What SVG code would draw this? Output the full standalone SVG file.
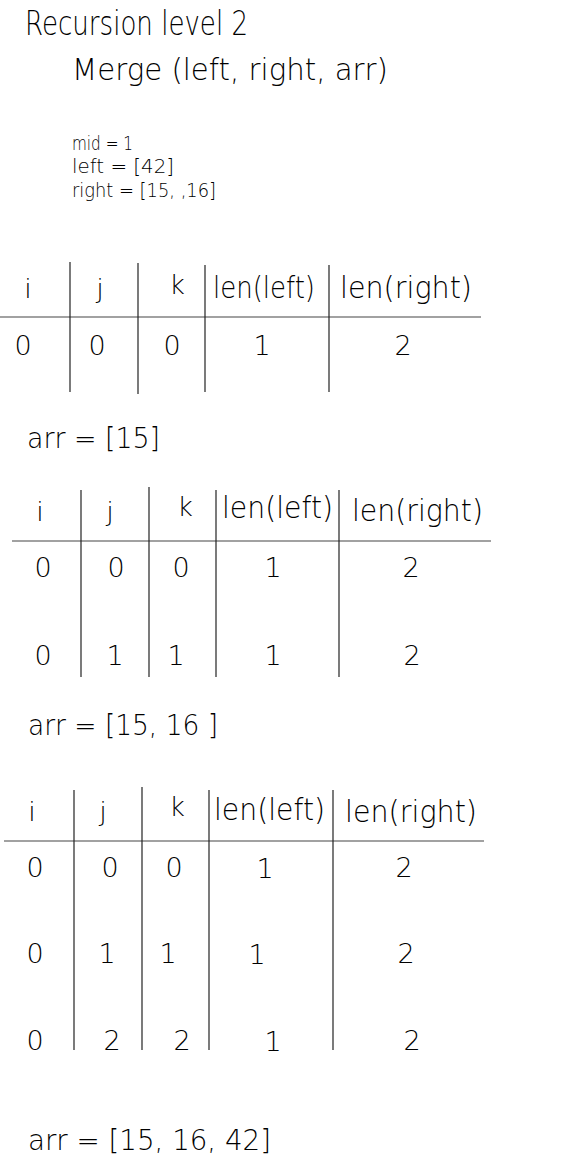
<svg xmlns="http://www.w3.org/2000/svg" width="582" height="1162" viewBox="0 0 582 1162">
<style>
text{font-family:"DejaVu Sans","Liberation Sans",sans-serif;font-weight:200;fill:#000}
.t{font-size:33px}
.m{font-size:31px}
.s{font-size:19px}
.h{font-size:31px}
.d{font-size:27px;text-anchor:middle}
.a{font-size:28px}
line{stroke:#222;stroke-width:1.2}
.hl{stroke:#444}
</style>
<rect width="582" height="1162" fill="#fff"/>
<g id="header">
<text class="t" x="25" y="35" textLength="223" lengthAdjust="spacingAndGlyphs">Recursion level 2</text>
<text class="m" x="72" y="80" textLength="316" lengthAdjust="spacingAndGlyphs">Merge (left, right, arr)</text>
<text class="s" x="72" y="150" textLength="61" lengthAdjust="spacingAndGlyphs">mid = 1</text>
<text class="s" x="72" y="173" textLength="102" lengthAdjust="spacingAndGlyphs">left = [42]</text>
<text class="s" x="72" y="197" textLength="144" lengthAdjust="spacingAndGlyphs">right = [15, ,16]</text>
</g>
<g id="table1">
<line class="hl" x1="0" y1="317" x2="481" y2="317"/>
<line x1="70" y1="262" x2="70" y2="392"/>
<line x1="138" y1="263" x2="138" y2="394"/>
<line x1="205" y1="265" x2="205" y2="392"/>
<line x1="329" y1="265" x2="329" y2="392"/>
<text class="d" x="28" y="298">i</text>
<text class="d" x="100" y="298">j</text>
<text class="d" x="177" y="294">k</text>
<text class="h" x="213" y="298" textLength="102" lengthAdjust="spacingAndGlyphs">len(left)</text>
<text class="h" x="340" y="298" textLength="132" lengthAdjust="spacingAndGlyphs">len(right)</text>
<text class="d" x="23" y="355">0</text>
<text class="d" x="97" y="355">0</text>
<text class="d" x="172" y="355">0</text>
<text class="d" x="262" y="355">1</text>
<text class="d" x="403" y="355">2</text>
</g>
<g id="arr1">
<text class="a" x="27" y="448" textLength="133" lengthAdjust="spacingAndGlyphs">arr = [15]</text>
</g>
<g id="table2">
<line class="hl" x1="12" y1="541" x2="491" y2="541"/>
<line x1="81" y1="490" x2="81" y2="677"/>
<line x1="149" y1="487" x2="149" y2="677"/>
<line x1="216" y1="490" x2="216" y2="677"/>
<line x1="339" y1="490" x2="339" y2="677"/>
<text class="d" x="40" y="521">i</text>
<text class="d" x="110" y="521">j</text>
<text class="d" x="185" y="516">k</text>
<text class="h" x="222" y="518" textLength="111" lengthAdjust="spacingAndGlyphs">len(left)</text>
<text class="h" x="352" y="521" textLength="131" lengthAdjust="spacingAndGlyphs">len(right)</text>
<text class="d" x="43" y="577">0</text>
<text class="d" x="116" y="577">0</text>
<text class="d" x="181" y="577">0</text>
<text class="d" x="273" y="577">1</text>
<text class="d" x="411" y="577">2</text>
<text class="d" x="43" y="665">0</text>
<text class="d" x="115" y="665">1</text>
<text class="d" x="176" y="665">1</text>
<text class="d" x="273" y="665">1</text>
<text class="d" x="412" y="665">2</text>
</g>
<g id="arr2">
<text class="a" x="28" y="735" textLength="190" lengthAdjust="spacingAndGlyphs">arr = [15, 16 ]</text>
</g>
<g id="table3">
<line class="hl" x1="4" y1="841" x2="484" y2="841"/>
<line x1="74" y1="790" x2="74" y2="1050"/>
<line x1="142" y1="787" x2="142" y2="1050"/>
<line x1="209" y1="790" x2="209" y2="1050"/>
<line x1="333" y1="790" x2="333" y2="1050"/>
<text class="d" x="32" y="821">i</text>
<text class="d" x="103" y="821">j</text>
<text class="d" x="177" y="816">k</text>
<text class="h" x="214" y="820" textLength="111" lengthAdjust="spacingAndGlyphs">len(left)</text>
<text class="h" x="345" y="822" textLength="132" lengthAdjust="spacingAndGlyphs">len(right)</text>
<text class="d" x="35" y="877">0</text>
<text class="d" x="110" y="877">0</text>
<text class="d" x="174" y="877">0</text>
<text class="d" x="265" y="878">1</text>
<text class="d" x="404" y="877">2</text>
<text class="d" x="35" y="963">0</text>
<text class="d" x="107" y="963">1</text>
<text class="d" x="168" y="963">1</text>
<text class="d" x="257" y="964">1</text>
<text class="d" x="406" y="963">2</text>
<text class="d" x="35" y="1050">0</text>
<text class="d" x="112" y="1050">2</text>
<text class="d" x="182" y="1050">2</text>
<text class="d" x="273" y="1051">1</text>
<text class="d" x="412" y="1050">2</text>
</g>
<g id="arr3">
<text class="a" x="28" y="1150" textLength="243" lengthAdjust="spacingAndGlyphs">arr = [15, 16, 42]</text>
</g>
</svg>
